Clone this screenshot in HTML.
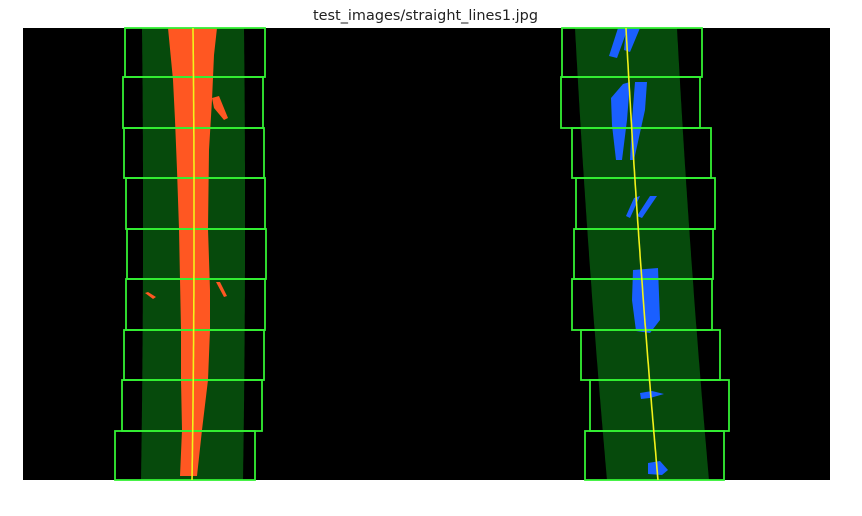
<!DOCTYPE html>
<html><head><meta charset="utf-8"><style>
html,body{margin:0;padding:0;background:#fff;width:862px;height:516px;overflow:hidden}
svg{display:block}
</style></head><body>
<svg id="chart" width="862" height="516" viewBox="0 0 862 516" xmlns="http://www.w3.org/2000/svg">
<text x="425.5" y="20" text-anchor="middle" font-family="DejaVu Sans, Liberation Sans, sans-serif" font-size="14" fill="#222" textLength="225" lengthAdjust="spacingAndGlyphs">test_images/straight_lines1.jpg</text>
<rect x="23" y="28" width="807" height="452" fill="#000"/>
<g id="bands"></g>
<g id="pixels"></g>
<g id="boxes"></g>
<g id="fits"></g>
</svg>
<script>
// window rows (top y of each sliding window, image px)
const rowTops = [28, 77, 128, 178, 229, 279, 330, 380, 431];
const rowBottom = 480;
// left lane window x ranges
const leftWinX1 = [125, 123, 124, 126, 127, 126, 124, 122, 115];
const leftWinX2 = [265, 263, 264, 265, 266, 265, 264, 262, 255];
// right lane window x ranges
const rightWinX1 = [562, 561, 572, 576, 574, 572, 581, 590, 585];
const rightWinX2 = [702, 700, 711, 715, 713, 712, 720, 729, 724];
// fitted lane centre x at top / middle / bottom
const leftFit = [193, 194, 192];
const rightFit = [626, 640, 658];
const bandHalf = 51;
const fitY = [28, 254, 480];

const NS = 'http://www.w3.org/2000/svg';
function mk(tag, attrs, parent){const e=document.createElementNS(NS,tag);for(const k in attrs)e.setAttribute(k,attrs[k]);parent.appendChild(e);return e;}
function quadX(fit, y){
  const [y0,y1,y2]=fitY,[x0,x1,x2]=fit;
  return x0*((y-y1)*(y-y2))/((y0-y1)*(y0-y2))+x1*((y-y0)*(y-y2))/((y1-y0)*(y1-y2))+x2*((y-y0)*(y-y1))/((y2-y0)*(y2-y1));
}
const bands=document.getElementById('bands'), fits=document.getElementById('fits'), boxes=document.getElementById('boxes'), pix=document.getElementById('pixels');
[['left',leftFit],['right',rightFit]].forEach(([n,fit])=>{
  let l=[],r=[],c=[];
  for(let y=28;y<=480;y+=4){const x=quadX(fit,y);l.push(`${(x-bandHalf).toFixed(1)},${y}`);r.unshift(`${(x+bandHalf).toFixed(1)},${y}`);c.push(`${x.toFixed(1)},${y}`);}
  const b=mk('polygon',{points:l.concat(r).join(' '),fill:'#064a0c'},bands);
  
  
  const p=mk('polyline',{points:c.join(' '),fill:'none',stroke:'#f2f21a','stroke-width':1.6},fits);
  
  
});
const leftBlob="168,28 217,28 214,55 212,100 209,150 208,229 210,290 210,330 208,380 202,430 197,476 180,476 182,430 181,380 181,330 180,280 179,229 177,170 175,120 173,80";
const lp=mk('polygon',{points:leftBlob,fill:'#ff5722'},pix);


[["212,98 219,96 228,118 224,120 214,108"],["216,282 220,282 227,296 224,297"],["145,293 148,292 156,297 153,299"]].forEach((pts,i)=>{
  const e=mk('polygon',{points:pts[0],fill:'#ff5722'},pix);
  
  
});
const blue=[
 "618,28 628,28 617,58 609,56",
 "626,28 640,28 630,52 624,50",
 "623,84 630,82 627,120 622,160 616,160 612,125 611,98",
 "635,82 647,82 645,110 634,160 630,160 632,120",
 "634,198 640,196 630,218 626,216",
 "650,196 657,196 642,218 637,216",
 "633,270 658,268 660,320 650,333 636,331 632,300",
 "640,393 652,391 664,394 650,398 641,399",
 "648,463 660,461 668,470 662,475 648,474"];
blue.forEach((pts,i)=>{
  const e=mk('polygon',{points:pts,fill:'#1a5fff'},pix);
  
  
});
rowTops.forEach((t,i)=>{
  const bot = i<rowTops.length-1 ? rowTops[i+1] : rowBottom;
  const a=mk('rect',{x:leftWinX1[i],y:t,width:leftWinX2[i]-leftWinX1[i],height:bot-t,fill:'none',stroke:'#33f033','stroke-width':1.8},boxes);
  
  
  const b=mk('rect',{x:rightWinX1[i],y:t,width:rightWinX2[i]-rightWinX1[i],height:bot-t,fill:'none',stroke:'#33f033','stroke-width':1.8},boxes);
  
  
});
</script>
</body></html>
